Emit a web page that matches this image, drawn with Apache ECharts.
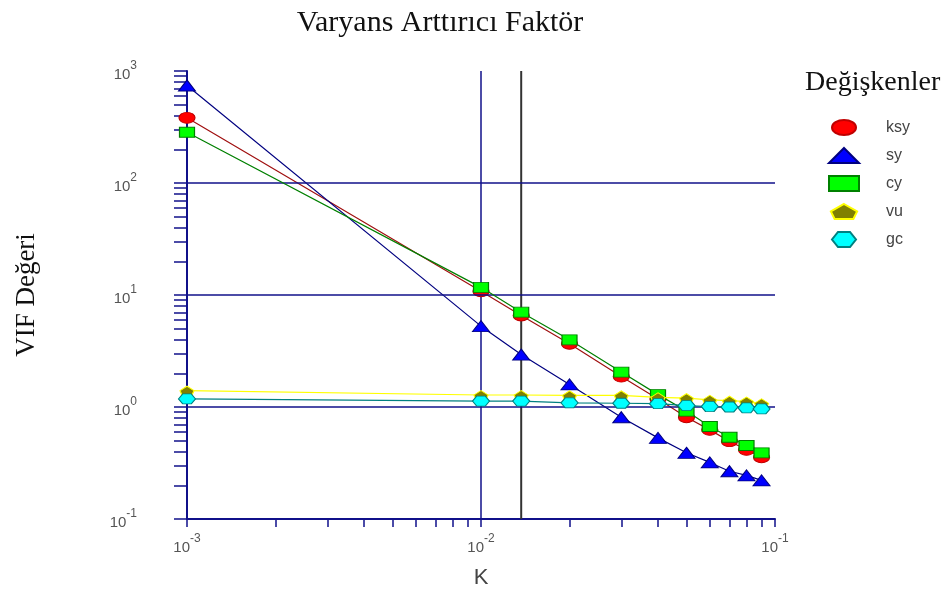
<!DOCTYPE html>
<html>
<head>
<meta charset="utf-8">
<script src="https://cdn.jsdelivr.net/npm/echarts@6/dist/echarts.min.js"></script>
<style>
  html, body { margin: 0; padding: 0; background: #fff; }
  #chart { width: 946px; height: 596px; }
</style>
</head>
<body>
<div id="chart"></div>
<script>
// K values (x) and VIF values per variable (y)
var kValues = [0.001, 0.01, 0.0137, 0.02, 0.03, 0.04, 0.05, 0.06, 0.07, 0.08, 0.09]
var ksy = [382, 10.8, 6.56, 3.67, 1.87, 1.18, 0.81, 0.625, 0.495, 0.415, 0.356]
var sy = [742, 5.27, 2.94, 1.59, 0.81, 0.53, 0.39, 0.32, 0.267, 0.245, 0.221]
var cy = [284, 11.7, 7.02, 3.98, 2.05, 1.29, 0.92, 0.67, 0.537, 0.453, 0.39]
var vu = [1.40, 1.28, 1.28, 1.27, 1.27, 1.22, 1.20, 1.16, 1.14, 1.12, 1.08]
var gc = [1.18, 1.13, 1.13, 1.09, 1.08, 1.07, 1.03, 1.01, 1.00, 0.98, 0.96]

var seriesNames = ['ksy', 'sy', 'cy', 'vu', 'gc']
var xTickValues = [0.001, 0.002, 0.003, 0.004, 0.005, 0.006, 0.007, 0.008, 0.009,
  0.01, 0.02, 0.03, 0.04, 0.05, 0.06, 0.07, 0.08, 0.09, 0.1]
var yTickValues = [0.1, 0.2, 0.3, 0.4, 0.5, 0.6, 0.7, 0.8, 0.9,
  1, 2, 3, 4, 5, 6, 7, 8, 9,
  10, 20, 30, 40, 50, 60, 70, 80, 90,
  100, 200, 300, 400, 500, 600, 700, 800, 900, 1000]
var xLabelValues = [0.001, 0.01, 0.1]
var yLabelValues = [0.1, 1, 10, 100, 1000]
var yRange = [0.1, 1000]
var hGrid = [1, 10, 100]
var vGrid = [0.01]
var kChosen = 0.0137

var NAVY = '#10108a'
var ELLIPSE = 'path://M0,5 C0,2.2 3.6,0 8,0 C12.4,0 16,2.2 16,5 C16,7.8 12.4,10 8,10 C3.6,10 0,7.8 0,5 Z'
var PENTAGON = 'path://M7,0 L14,4 L12,8 L2,8 L0,4 Z'
var HEXAGON = 'path://M4,0 L12,0 L16,5 L12,10 L4,10 L0,5 Z'

function pairs(values) {
  return kValues.map(function (k, i) { return [k, values[i]] })
}

function powLabel(v) {
  var e = Math.round(Math.log(v) / Math.LN10)
  return '{b|10}{s|' + e + '}'
}

var labelRich = {
  b: { fontSize: 15, color: '#555', fontFamily: 'Liberation Sans', lineHeight: 22, verticalAlign: 'bottom' },
  s: { fontSize: 12, color: '#555', fontFamily: 'Liberation Sans', lineHeight: 12, verticalAlign: 'top' }
}

var styles = {
  ksy: { line: '#a01010', fill: '#ff0000', border: '#c00000', symbol: ELLIPSE, size: [16, 11] },
  sy: { line: '#000080', fill: '#0000ff', border: '#000080', symbol: 'triangle', size: [17, 11] },
  cy: { line: '#008000', fill: '#00ff00', border: '#008000', symbol: 'rect', size: [15, 10] },
  vu: { line: '#ffff00', fill: '#808000', border: '#ffff00', symbol: PENTAGON, size: [14, 9] },
  gc: { line: '#008080', fill: '#00ffff', border: '#008080', symbol: HEXAGON, size: [17, 10] }
}
var dataByName = { ksy: ksy, sy: sy, cy: cy, vu: vu, gc: gc }

function refLine(k, color, width) {
  return {
    type: 'line',
    data: yRange.map(function (y) { return [k, y] }),
    symbol: 'none',
    silent: true,
    z: 1,
    lineStyle: { color: color, width: width },
    animation: false
  }
}

var series = seriesNames.map(function (name, i) {
  var st = styles[name]
  return {
    name: name,
    type: 'line',
    data: pairs(dataByName[name]),
    symbol: st.symbol,
    symbolSize: st.size,
    symbolKeepAspect: false,
    z: 3 + i,
    lineStyle: { color: st.line, width: 1.2 },
    itemStyle: { color: st.fill, borderColor: st.border, borderWidth: 1 },
    emphasis: { disabled: true },
    animation: false
  }
})

series.unshift({
  name: 'grid',
  type: 'line',
  data: [],
  z: 1,
  silent: true,
  animation: false,
  markLine: {
    silent: true,
    symbol: 'none',
    animation: false,
    label: { show: false },
    data: hGrid.map(function (v) { return { yAxis: v, lineStyle: { color: NAVY, width: 1.5, type: 'solid' } } })
  }
})
vGrid.forEach(function (k) { series.unshift(refLine(k, NAVY, 1.5)) })
series.unshift(refLine(kChosen, '#333', 2))

var chart = echarts.init(document.getElementById('chart'), null, { renderer: 'canvas' })
var option = {
  animation: false,
  backgroundColor: '#fff',
  title: [
    {
      text: 'Varyans Arttırıcı Faktör',
      left: 435,
      textAlign: 'center',
      top: 3,
      textStyle: { fontFamily: 'Liberation Serif', fontSize: 30, fontWeight: 'normal', color: '#111' }
    },
    {
      text: 'Değişkenler',
      left: 800,
      top: 64,
      textStyle: { fontFamily: 'Liberation Serif', fontSize: 28, fontWeight: 'normal', color: '#111' }
    }
  ],
  grid: { left: 187, right: 171, top: 71, bottom: 77, containLabel: false },
  legend: {
    orient: 'vertical',
    left: 823,
    top: 114,
    itemWidth: 30,
    itemHeight: 15,
    itemGap: 11,
    data: seriesNames.map(function (name) {
      return { name: name, icon: styles[name].symbol }
    }),
    textStyle: { fontFamily: 'Liberation Sans', fontSize: 16, color: '#444', padding: [0, 0, 0, 22] },
    selectedMode: false
  },
  xAxis: {
    type: 'log',
    logBase: 10,
    min: 0.001,
    max: 0.1,
    name: 'K',
    nameLocation: 'middle',
    nameGap: 48,
    nameTextStyle: { fontFamily: 'Liberation Sans', fontSize: 22, color: '#444' },
    axisLine: { show: true, lineStyle: { color: NAVY, width: 2 } },
    axisTick: { show: true, length: 8, customValues: xTickValues, lineStyle: { color: NAVY, width: 1.5 } },
    axisLabel: { margin: 14, customValues: xLabelValues, formatter: powLabel, rich: labelRich },
    splitLine: { show: false },
    minorTick: { show: false }
  },
  yAxis: {
    type: 'log',
    logBase: 10,
    min: 0.1,
    max: 1000,
    name: 'VIF Değeri',
    nameLocation: 'middle',
    nameGap: 147,
    nameRotate: 90,
    nameTextStyle: { fontFamily: 'Liberation Serif', fontSize: 27, color: '#111' },
    axisLine: { show: true, lineStyle: { color: NAVY, width: 2 } },
    axisTick: { show: true, length: 13, customValues: yTickValues, lineStyle: { color: NAVY, width: 1.5 } },
    axisLabel: { margin: 50, customValues: yLabelValues, formatter: powLabel, rich: labelRich },
    splitLine: { show: false },
    minorTick: { show: false }
  },
  series: series
}
chart.setOption(option)
</script>
</body>
</html>
